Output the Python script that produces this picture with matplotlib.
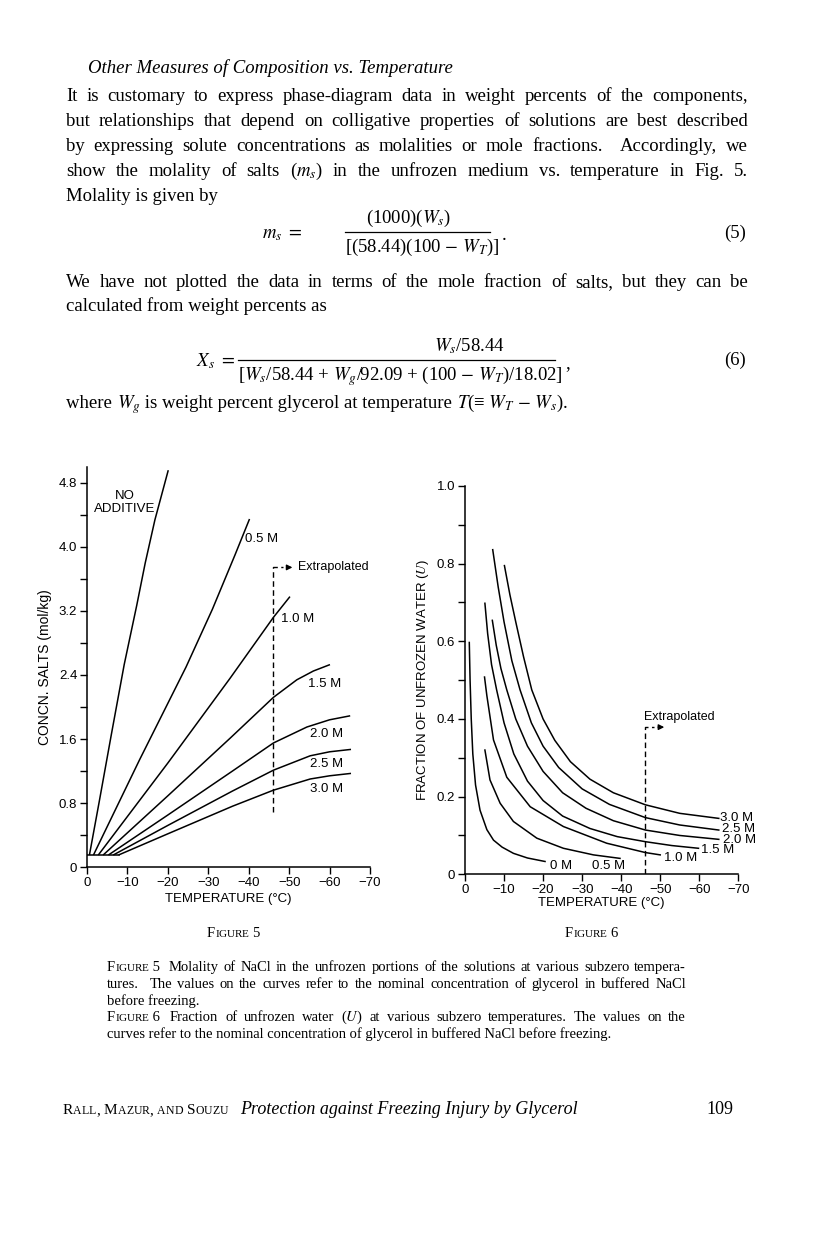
import numpy as np
import matplotlib.pyplot as plt
from matplotlib.ticker import MultipleLocator, FuncFormatter

plt.rcParams['font.family'] = ['Liberation Serif', 'DejaVu Serif']
plt.rcParams['mathtext.fontset'] = 'stix'

W, H = 816, 1241
fig = plt.figure(figsize=(W / 100, H / 100), dpi=100)
renderer = fig.canvas.get_renderer()

# ---------------- data: Figure 5 (molality of salts vs T) ----------------
flat_t = [0.0, -7.8]
flat_m = [0.15, 0.15]
fig5_labels = ['NO ADDITIVE', '0.5 M', '1.0 M', '1.5 M', '2.0 M', '2.5 M', '3.0 M']
fig5_t = [
    [-0.6, -3.0, -6.0, -9.2, -12.3, -14.4, -16.8, -20.1],
    [-1.6, -13.0, -24.5, -31.0, -36.6, -40.2],
    [-2.8, -20.0, -35.4, -46.1, -50.2],
    [-4.0, -20.0, -35.4, -46.1, -51.9, -56.0, -60.1],
    [-5.3, -20.0, -36.0, -46.1, -54.4, -60.0, -65.1],
    [-6.5, -20.0, -36.0, -46.1, -55.2, -60.0, -65.3],
    [-7.8, -20.0, -36.0, -46.1, -55.2, -60.0, -65.3],
]
fig5_m = [
    [0.15, 0.81, 1.65, 2.53, 3.27, 3.80, 4.34, 4.96],
    [0.15, 1.34, 2.50, 3.22, 3.90, 4.35],
    [0.15, 1.30, 2.36, 3.12, 3.38],
    [0.15, 0.89, 1.61, 2.12, 2.34, 2.45, 2.53],
    [0.15, 0.65, 1.20, 1.55, 1.75, 1.84, 1.89],
    [0.15, 0.52, 0.95, 1.21, 1.39, 1.44, 1.47],
    [0.15, 0.415, 0.76, 0.96, 1.10, 1.14, 1.17],
]
# label anchor (left edge / centre for NO ADDITIVE)
fig5_lab_t = [-9.4, -39.1, -48.0, -54.7, -55.2, -55.2, -55.2]
fig5_lab_m = [4.56, 4.10, 3.10, 2.29, 1.66, 1.29, 0.975]
extrap5_t, extrap5_lo, extrap5_hi = -46.1, 0.69, 3.745

# ---------------- data: Figure 6 (fraction of unfrozen water) ----------------
fig6_labels = ['0 M', '0.5 M', '1.0 M', '1.5 M', '2.0 M', '2.5 M', '3.0 M']
fig6_t = [
    [-1.1, -1.3, -1.6, -2.0, -2.7, -3.85, -5.6, -7.3, -9.5, -12.4, -16.0, -20.5],
    [-5.1, -6.4, -9.0, -12.4, -18.4, -25.2, -32.9, -39.7],
    [-5.0, -5.6, -7.3, -10.7, -16.7, -25.2, -36.3, -46.2, -50.0],
    [-5.1, -5.8, -6.8, -8.1, -10.0, -12.5, -16.0, -20.0, -25.0, -32.0, -39.0, -46.2, -53.0, -59.8],
    [-7.0, -8.0, -9.2, -10.7, -13.0, -16.0, -20.0, -25.0, -31.0, -38.0, -46.2, -55.0, -65.0],
    [-7.1, -8.5, -10.0, -12.0, -14.1, -17.0, -20.0, -24.0, -30.0, -37.0, -46.2, -55.0, -65.0],
    [-10.1, -11.5, -13.0, -15.0, -17.1, -20.0, -23.0, -27.0, -32.0, -38.0, -46.2, -55.0, -65.0],
]
fig6_u = [
    [0.597, 0.50, 0.40, 0.31, 0.23, 0.165, 0.115, 0.088, 0.070, 0.054, 0.042, 0.033],
    [0.320, 0.243, 0.183, 0.136, 0.093, 0.067, 0.050, 0.041],
    [0.508, 0.46, 0.346, 0.250, 0.174, 0.123, 0.080, 0.056, 0.050],
    [0.698, 0.62, 0.54, 0.475, 0.39, 0.31, 0.24, 0.19, 0.15, 0.118, 0.097, 0.084, 0.074, 0.067],
    [0.654, 0.59, 0.53, 0.475, 0.40, 0.33, 0.265, 0.21, 0.17, 0.138, 0.114, 0.100, 0.090],
    [0.836, 0.74, 0.65, 0.55, 0.475, 0.39, 0.33, 0.275, 0.22, 0.18, 0.146, 0.127, 0.114],
    [0.795, 0.72, 0.65, 0.56, 0.475, 0.40, 0.345, 0.29, 0.245, 0.21, 0.179, 0.157, 0.144],
]
fig6_lab_t = [-21.8, -32.5, -50.9, -60.5, -66.2, -65.8, -65.4]
fig6_lab_u = [0.021, 0.021, 0.043, 0.063, 0.088, 0.116, 0.146]
extrap6_t, extrap6_hi = -46.15, 0.379

SANS = 'Liberation Sans'


def style_axes(ax, ymax, ymajor, yminor):
    ax.set_xlim(0, -70)
    ax.set_ylim(0, ymax)
    for s in ('top', 'right'):
        ax.spines[s].set_visible(False)
    for s in ('left', 'bottom'):
        ax.spines[s].set_linewidth(1.1)
    ax.xaxis.set_major_locator(MultipleLocator(10))
    ax.yaxis.set_major_locator(MultipleLocator(ymajor))
    ax.yaxis.set_minor_locator(MultipleLocator(yminor))
    ax.xaxis.set_major_formatter(FuncFormatter(lambda v, p: '0' if v == 0 else '\u2212%d' % abs(v)))
    ax.yaxis.set_major_formatter(FuncFormatter(lambda v, p: '0' if v == 0 else '%.1f' % v))
    ax.tick_params(which='both', direction='out', length=5, width=1.0, labelsize=9.5, pad=2)
    for lab in ax.get_xticklabels() + ax.get_yticklabels():
        lab.set_fontfamily(SANS)


# ---------------- Figure 5 ----------------
ax5 = fig.add_axes([87 / W, (H - 867) / H, 283 / W, 400 / H])
style_axes(ax5, 5.0, 0.8, 0.4)
ax5.plot(flat_t, flat_m, color='k', lw=1.1)
for t, m in zip(fig5_t, fig5_m):
    ax5.plot(t, m, color='k', lw=1.1, solid_capstyle='butt')
ax5.text(fig5_lab_t[0], fig5_lab_m[0], 'NO\nADDITIVE', ha='center', va='center',
         fontsize=9.5, family=SANS, linespacing=1.1)
for lab, t, m in zip(fig5_labels[1:], fig5_lab_t[1:], fig5_lab_m[1:]):
    ax5.text(t, m, lab, ha='left', va='center', fontsize=9.5, family=SANS)
ax5.plot([extrap5_t, extrap5_t, extrap5_t - 2.4], [extrap5_lo, extrap5_hi, extrap5_hi],
         color='k', lw=1.0, dashes=(4, 2.5))
ax5.annotate('', xy=(extrap5_t - 5.4, extrap5_hi), xytext=(extrap5_t - 2.6, extrap5_hi),
             arrowprops=dict(arrowstyle='-|>', color='k', lw=1.0, mutation_scale=8))
ax5.text(extrap5_t - 6.1, extrap5_hi, 'Extrapolated', ha='left', va='center',
         fontsize=9, family=SANS)
ax5.set_xlabel('TEMPERATURE (\u00b0C)', fontsize=9.5, family=SANS, labelpad=3)
ax5.set_ylabel('CONCN. SALTS (mol/kg)', fontsize=10, family=SANS, labelpad=5)

# ---------------- Figure 6 ----------------
ax6 = fig.add_axes([465 / W, (H - 874.3) / H, 273.3 / W, 388.3 / H])
style_axes(ax6, 1.0, 0.2, 0.1)
for t, u in zip(fig6_t, fig6_u):
    ax6.plot(t, u, color='k', lw=1.1)
for lab, t, u in zip(fig6_labels, fig6_lab_t, fig6_lab_u):
    ax6.text(t, u, lab, ha='left', va='center', fontsize=9.5, family=SANS)
ax6.plot([extrap6_t, extrap6_t, extrap6_t - 2.2], [0, extrap6_hi, extrap6_hi],
         color='k', lw=1.0, dashes=(4, 2.5))
ax6.annotate('', xy=(extrap6_t - 5.6, extrap6_hi), xytext=(extrap6_t - 2.6, extrap6_hi),
             arrowprops=dict(arrowstyle='-|>', color='k', lw=1.0, mutation_scale=8))
ax6.text(extrap6_t + 0.4, extrap6_hi + 0.027, 'Extrapolated', ha='left', va='center',
         fontsize=9, family=SANS)
ax6.set_xlabel('TEMPERATURE (\u00b0C)', fontsize=9.5, family=SANS, labelpad=1)
ax6.set_ylabel('FRACTION OF UNFROZEN WATER ($\\mathit{U}$)', fontsize=9.5, family=SANS, labelpad=4)


# ---------------- page text ----------------
def width_of(s, **kw):
    t = fig.text(0, 0, s, **kw)
    w = t.get_window_extent(renderer).width
    t.remove()
    return w


def put(x, y, s, **kw):
    fig.text(x / W, 1 - y / H, s, va='baseline', ha='left', **kw)


def put_runs(x, y, runs):
    for s, kw in runs:
        put(x, y, s, **kw)
        x += width_of(s, **kw)
    return x


def justify(y, words, left, right, size):
    # a word is a string or a list of (text, kwargs) runs
    runs = [w if isinstance(w, list) else [(w, dict(fontsize=size))] for w in words]
    widths = [sum(width_of(s, **kw) for s, kw in r) for r in runs]
    gap = (right - left - sum(widths)) / (len(runs) - 1)
    x = left
    for r, wd in zip(runs, widths):
        put_runs(x, y, r)
        x += wd + gap


def plain(y, s, left, size, **kw):
    put(left, y, s, fontsize=size, **kw)


BS = 13.5
L, R = 66, 748
put(88, 73, 'Other Measures of Composition vs. Temperature', fontsize=BS, style='italic')
body = [
    'It is customary to express phase-diagram data in weight percents of the components,',
    'but relationships that depend on colligative properties of solutions are best described',
    'by expressing solute concentrations as molalities or mole fractions.  Accordingly, we',
    'show the molality of salts ($m_s$) in the unfrozen medium vs. temperature in Fig. 5.',
]
for i, line in enumerate(body):
    justify(101 + 25 * i, line.split(' '), L, R, BS)
plain(201, 'Molality is given by', L, BS)

# equation (5)
put(262, 238, r'$m_s\ =$', fontsize=BS)
put(366, 223, r'(1000)($W_s$)', fontsize=BS)
fig.add_artist(plt.Line2D([345 / W, 490 / W], [1 - 232 / H, 1 - 232 / H], color='k', lw=0.9))
x = put_runs(345, 252, [(r'[(58.44)(100 $-$ $W_T$)]', dict(fontsize=BS))])
put(x + 2, 240, '.', fontsize=BS)
put(724, 238, '(5)', fontsize=BS)

justify(287, 'We have not plotted the data in terms of the mole fraction of salts, but they can be'.split(' '),
        L, R, BS)
plain(311, 'calculated from weight percents as', L, BS)

# equation (6)
put(196, 366, r'$X_s\ =$', fontsize=BS)
put(434, 351, r'$W_s$/58.44', fontsize=BS)
fig.add_artist(plt.Line2D([238 / W, 555 / W], [1 - 360 / H, 1 - 360 / H], color='k', lw=0.9))
x = put_runs(238, 380, [(r'[$W_s$/58.44 + $W_g$/92.09 + (100 $-$ $W_T$)/18.02]', dict(fontsize=BS))])
put(x + 2, 368, ',', fontsize=BS)
put(724, 365, '(6)', fontsize=BS)

put_runs(L, 408, [('where ', dict(fontsize=BS)), (r'$W_g$', dict(fontsize=BS)),
                  (' is weight percent glycerol at temperature ', dict(fontsize=BS)),
                  ('$T$(\u2261 $W_T$ $-$ $W_s$).', dict(fontsize=BS))])


def small_caps(word, big, small):
    runs = []
    for ch in word:
        if ch.isalpha() and ch.islower():
            runs.append((ch.upper(), dict(fontsize=small)))
        else:
            runs.append((ch, dict(fontsize=big)))
    return runs


# figure titles under the charts
put_runs(207, 937, small_caps('Figure 5', 10.5, 8))
put_runs(565, 937, small_caps('Figure 6', 10.5, 8))

# captions
CS = 10.5
CL, CR = 107, 686
cap1 = 'Molality of NaCl in the unfrozen portions of the solutions at various subzero tempera-'.split(' ')
justify(971, [small_caps('Figure', CS, 8) + [(' 5 ', dict(fontsize=CS))]] + cap1, CL, CR, CS)
justify(988, 'tures.  The values on the curves refer to the nominal concentration of glycerol in buffered NaCl'.split(' '),
        CL, CR, CS)
plain(1005, 'before freezing.', CL, CS)
cap2 = ['Fraction', 'of', 'unfrozen', 'water', '($U$)', 'at', 'various', 'subzero', 'temperatures.',
        'The', 'values', 'on', 'the']
justify(1021, [small_caps('Figure', CS, 8) + [(' 6 ', dict(fontsize=CS))]] + cap2, CL, CR, CS)
plain(1038, 'curves refer to the nominal concentration of glycerol in buffered NaCl before freezing.', CL, CS)

# running footer
x = put_runs(63, 1114, small_caps('Rall, Mazur, and Souzu', 11, 8.5))
put(x + 12, 1114, 'Protection against Freezing Injury by Glycerol', fontsize=13, style='italic')
put(706, 1114, '109', fontsize=13)

fig.savefig('out.png', dpi=100, facecolor='white')
